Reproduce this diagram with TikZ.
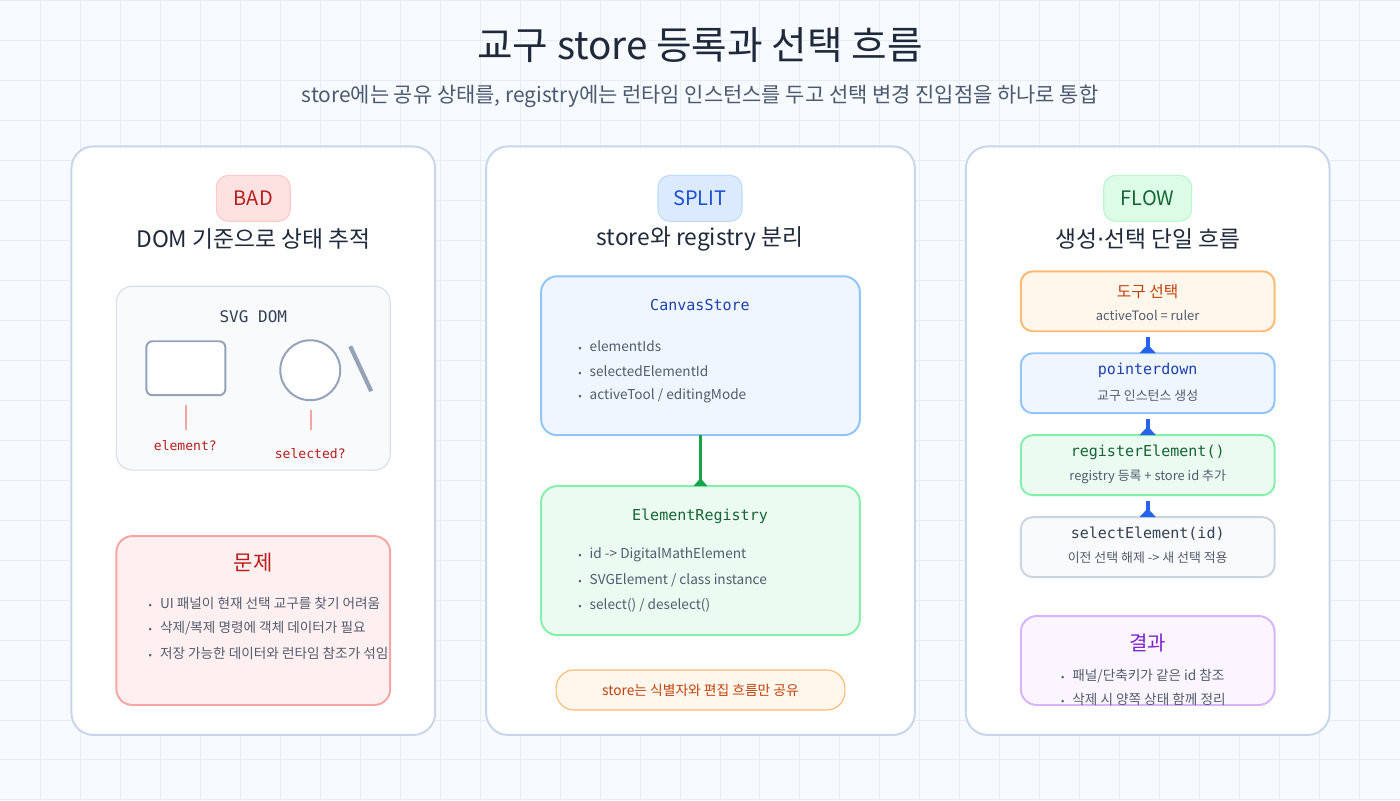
\documentclass[tikz,border=0pt]{standalone}
\usepackage{fontspec}
\setmainfont{Noto Sans CJK KR}
\setmonofont{DejaVu Sans Mono}
\newfontfamily\dotfont{DejaVu Sans}
\usetikzlibrary{arrows.meta}

\definecolor{pagebg}{HTML}{F7FAFE}
\definecolor{gridline}{HTML}{E6EDF6}
\definecolor{panelline}{HTML}{C8D6EB}
\definecolor{ink}{HTML}{1E293B}
\definecolor{muted}{HTML}{4B5A70}
\definecolor{bodytext}{HTML}{525C6E}
\definecolor{badred}{HTML}{B91C1C}
\definecolor{badfill}{HTML}{FEE2E2}
\definecolor{badline}{HTML}{FECACA}
\definecolor{splitblue}{HTML}{1D4ED8}
\definecolor{splitfill}{HTML}{DBEAFE}
\definecolor{splitline}{HTML}{BFDBFE}
\definecolor{flowgreen}{HTML}{166534}
\definecolor{flowfill}{HTML}{DCFCE7}
\definecolor{flowline}{HTML}{BBF7D0}
\definecolor{domfill}{HTML}{F8FAFC}
\definecolor{domline}{HTML}{D6E0EC}
\definecolor{shapeline}{HTML}{94A3B8}
\definecolor{tickred}{HTML}{F5A3A3}
\definecolor{probfill}{HTML}{FEF0F0}
\definecolor{probline}{HTML}{F8A5A5}
\definecolor{storefill}{HTML}{EFF6FF}
\definecolor{storeline}{HTML}{93C5FD}
\definecolor{storeink}{HTML}{1E40AF}
\definecolor{regfill}{HTML}{EBFBF2}
\definecolor{regline}{HTML}{86EFAC}
\definecolor{linkgreen}{HTML}{16A34A}
\definecolor{notefill}{HTML}{FFF6EC}
\definecolor{noteline}{HTML}{FDBA74}
\definecolor{noteink}{HTML}{C2410C}
\definecolor{selline}{HTML}{CBD5E1}
\definecolor{selink}{HTML}{334155}
\definecolor{linkblue}{HTML}{2563EB}
\definecolor{resfill}{HTML}{FAF5FF}
\definecolor{resline}{HTML}{D8B4FE}
\definecolor{resink}{HTML}{7E22CE}

\newcommand\fs[1]{\fontsize{#1}{#1}\selectfont}
\newcommand\bitem[1]{{\fs{7}•}\hspace{0.2cm}#1}

\tikzset{
  wh/.style 2 args={minimum width=#1*0.025cm, minimum height=#2*0.025cm},
  box/.style={inner sep=0pt, outer sep=0pt, line width=1.4pt},
  panel/.style={box, draw=panelline, fill=white, rounded corners=0.55cm},
  badge/.style={box, line width=0.8pt, rounded corners=0.3cm, font=\fs{14.2}},
  heading/.style={text=ink, font=\fs{16.2}},
  item/.style={anchor=west, inner sep=0pt, text=bodytext, font=\fs{9.7}},
  sub/.style={inner sep=0pt, text=bodytext, font=\fs{9.2}},
  stepbox/.style={box, wh={254}{60}, rounded corners=0.3cm},
  flowlink/.style={draw=linkblue, line width=2.9pt, shorten <=0.15cm,
    -{Triangle[reversed, length=0.22cm, width=0.4cm]}},
}

\begin{document}
\begin{tikzpicture}[x=0.025cm, y=-0.025cm]
  % page and grid
  \fill[pagebg] (0,0) rectangle (1400,800);
  \foreach \gx in {40,80,...,1360} \draw[gridline, line width=0.7pt] (\gx,0) -- (\gx,800);
  \foreach \gy in {0,40,...,800} \draw[gridline, line width=0.7pt] (0,\gy) -- (1400,\gy);
  \useasboundingbox (0,0) rectangle (1400,800);

  \node[text=ink, font=\fs{27.5}] (title) at (700,45) {교구 store 등록과 선택 흐름};
  \node[text=muted, font=\fs{14.9}] (subtitle) at (700,96) {store에는 공유 상태를, registry에는 런타임 인스턴스를 두고 선택 변경 진입점을 하나로 통합};

  % left: DOM based tracking
  \node[panel, wh={364}{589}] (badpanel) at (253,440.5) {};
  \node[badge, draw=badline, fill=badfill, text=badred, wh={74}{46}] (bad) at (253,198) {BAD};
  \node[heading] (badhead) at (253,239) {DOM 기준으로 상태 추적};
  \node[box, line width=0.8pt, draw=domline, fill=domfill, rounded corners=0.4cm, wh={274}{184}] (dom) at (253,378) {};
  \node[text=selink, font=\ttfamily\fs{11.4}] (domtitle) at (253,316) {SVG DOM};
  \node[box, draw=shapeline, fill=white, rounded corners=0.15cm, wh={79}{54}] (domrect) at (185.5,368) {};
  \node[box, circle, draw=shapeline, fill=white, minimum size=60*0.025cm] (domcircle) at (310,370) {};
  \draw[shapeline, line width=3pt] (350,346) -- (371,391);
  \draw[tickred, line width=1.4pt] (186,405) -- (186,430);
  \draw[tickred, line width=1.4pt] (311,410) -- (311,430);
  \node[text=badred, font=\ttfamily\fs{9.3}] (elemq) at (185,445) {element?};
  \node[text=badred, font=\ttfamily\fs{9.3}] (selq) at (310,453) {selected?};

  \node[box, draw=probline, fill=probfill, rounded corners=0.4cm, wh={274}{169}] (problem) at (253,620.5) {};
  \node[text=badred, font=\fs{15}] (probhead) at (253,563) {문제};
  \foreach \t [count=\i] in {UI 패널이 현재 선택 교구를 찾기 어려움, 삭제/복제 명령에 객체 데이터가 필요, 저장 가능한 데이터와 런타임 참조가 섞임}
    \node[item] (prob-\i) at (148,578+25*\i) {\bitem{\t}};

  % middle: store and registry
  \node[panel, wh={429}{589}] (splitpanel) at (700.5,440.5) {};
  \node[badge, draw=splitline, fill=splitfill, text=splitblue, wh={84}{46}] (split) at (700,198) {SPLIT};
  \node[heading] (splithead) at (700,239) {store와 registry 분리};
  \node[box, draw=storeline, fill=storefill, rounded corners=0.4cm, wh={319}{159}] (store) at (700.5,355.5) {};
  \node[text=storeink, font=\ttfamily\fs{10.7}] (storetitle) at (700,305) {CanvasStore};
  \foreach \t [count=\i] in {elementIds, selectedElementId, activeTool / editingMode}
    \node[item] (store-\i) at (578,321+25*\i) {\bitem{\t}};
  \node[box, draw=regline, fill=regfill, rounded corners=0.4cm, wh={319}{149}] (registry) at (700.5,560.5) {};
  \node[text=flowgreen, font=\ttfamily\fs{10.7}] (regtitle) at (700,516) {ElementRegistry};
  \foreach \t [count=\i] in {id -> DigitalMathElement, SVGElement / class instance, select() / deselect()}
    \node[item] (reg-\i) at (578,530+25*\i) {\bitem{\t}};
  \draw[linkgreen, line width=2.4pt, -{Triangle[reversed, length=0.2cm, width=0.34cm]}] (store) -- (registry);
  \node[box, line width=0.8pt, draw=noteline, fill=notefill, rounded corners=0.45cm, wh={289}{40}, text=noteink, font=\fs{9.8}] (note) at (700.5,690) {store는 식별자와 편집 흐름만 공유};

  % right: single flow
  \node[panel, wh={364}{589}] (flowpanel) at (1148,440.5) {};
  \node[badge, draw=flowline, fill=flowfill, text=flowgreen, wh={88}{46}] (flow) at (1148,198) {FLOW};
  \node[heading] (flowhead) at (1148,239) {생성{\dotfont ·}선택 단일 흐름};

  \node[stepbox, draw=noteline, fill=notefill] (tool) at (1148,301) {};
  \node[text=noteink, font=\fs{11.2}] (tooltitle) at (1148,291) {도구 선택};
  \node[sub] (toolsub) at (1148,315) {activeTool = ruler};

  \node[stepbox, draw=storeline, fill=storefill] (down) at (1148,383) {};
  \node[text=storeink, font=\ttfamily\fs{10.7}] (downtitle) at (1148,370) {pointerdown};
  \node[sub] (downsub) at (1148,395) {교구 인스턴스 생성};

  \node[stepbox, draw=regline, fill=regfill] (register) at (1148,465) {};
  \node[text=flowgreen, font=\ttfamily\fs{10.7}] (regstep) at (1148,452) {registerElement()};
  \node[sub] (regsub) at (1148,477) {registry 등록 + store id 추가};

  \node[stepbox, draw=selline, fill=domfill] (select) at (1148,547) {};
  \node[text=selink, font=\ttfamily\fs{10.7}] (seltitle) at (1148,534) {selectElement(id)};
  \node[sub] (selsub) at (1148,558) {이전 선택 해제 -> 새 선택 적용};

  \draw[flowlink] (tool) -- (down);
  \draw[flowlink] (down) -- (register);
  \draw[flowlink] (register) -- (select);

  \node[box, draw=resline, fill=resfill, rounded corners=0.4cm, wh={254}{89}] (result) at (1148,660.5) {};
  \node[text=resink, font=\fs{14.2}] (reshead) at (1148,643) {결과};
  \foreach \t [count=\i] in {패널/단축키가 같은 id 참조, 삭제 시 양쪽 상태 함께 정리}
    \node[item] (res-\i) at (1061,653+23*\i) {\bitem{\t}};
\end{tikzpicture}
\end{document}
